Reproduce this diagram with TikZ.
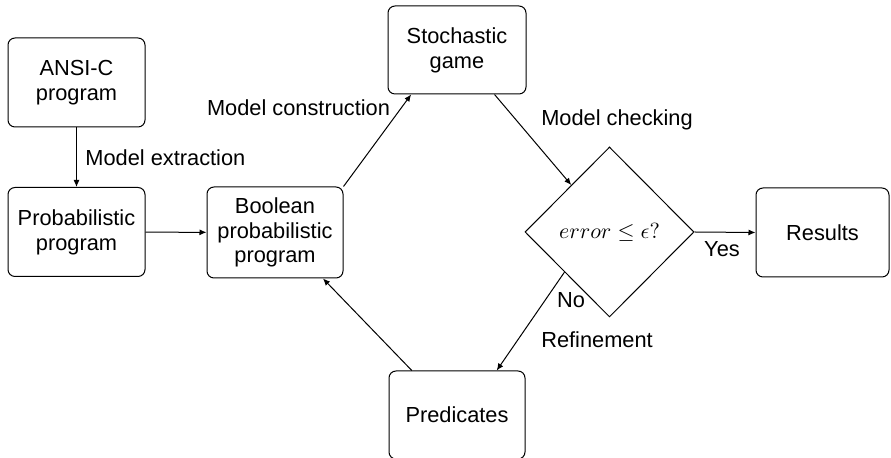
\documentclass[tikz,border=0pt]{standalone}
\usepackage{fontspec}
\setmainfont{Liberation Sans}
\usetikzlibrary{shapes.geometric,arrows.meta,calc}
\begin{document}
\begin{tikzpicture}[x=0.5pt,y=-0.5pt,
  box/.style={draw, rounded corners=3.5pt, minimum width=68.5pt, minimum height=44.5pt,
    align=center, inner sep=0pt, font=\fontsize{10.9}{12.4}\selectfont, line width=0.5pt},
  lbl/.style={inner sep=0pt, font=\fontsize{10.9}{12.4}\selectfont},
  arr/.style={-{Latex[length=3.5pt,width=3pt]}, line width=0.5pt}
]
\useasboundingbox (0,0) rectangle (891,458);
\node[box] (ansi) at (76.5,82.5) {ANSI-C\\program};
\node[box] (prob) at (76.5,232) {Probabilistic\\program};
\node[box, minimum width=68pt, minimum height=45.5pt] (bool) at (275,232.5) {Boolean\\probabilistic\\program};
\node[box, minimum width=69pt, minimum height=44pt] (stoch) at (457,50) {Stochastic\\game};
\node[draw, diamond, line width=0.5pt, minimum width=84.5pt, minimum height=85pt, inner sep=0pt] (dia) at (609.5,232) {\fontsize{11.2}{13}\selectfont$error \leq \epsilon?$};
\node[box, minimum width=66.5pt] (res) at (822.5,232.5) {Results};
\node[box, minimum width=68pt, minimum height=44pt] (pred) at (457,415) {Predicates};

\node[lbl, anchor=west] (l1) at (85,158) {Model extraction};
\node[lbl] (l2) at (298.5,108) {Model construction};
\node[lbl] (l3) at (617,120) {Model checking};
\node[lbl] (l4) at (597,340) {Refinement};
\node[lbl] (l5) at (722,249) {Yes};
\node[lbl] (l6) at (571,300) {No};

\draw[arr] (ansi) -- (prob);
\draw[arr] (prob) -- (bool);
\draw[arr] (bool.north east) -- ($(stoch.south west)!0.17!(stoch.south east)$);
\draw[arr] ($(stoch.south west)!0.77!(stoch.south east)$) -- ($(dia.north)!0.45!(dia.west)$);
\draw[arr] (dia.east) -- (res.west);
\draw[arr] ($(dia.south)!0.53!(dia.west)$) -- ($(pred.north west)!0.79!(pred.north east)$);
\draw[arr] ($(pred.north west)!0.17!(pred.north east)$) -- ($(bool.south west)!0.85!(bool.south east)$);
\end{tikzpicture}
\end{document}
